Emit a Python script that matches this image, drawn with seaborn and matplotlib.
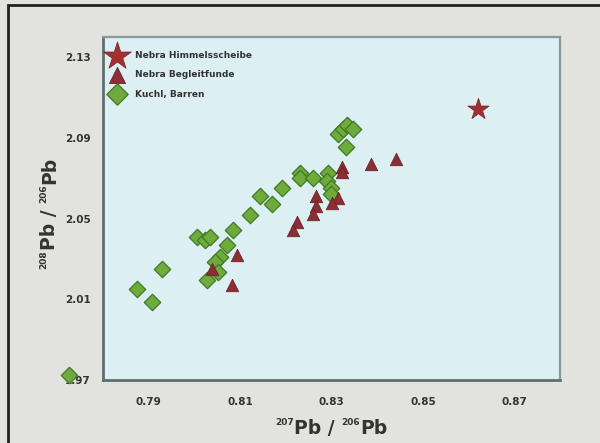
import matplotlib
matplotlib.use("Agg")
import matplotlib.pyplot as plt
import seaborn as sns
import pandas as pd
from matplotlib.patches import Rectangle
from matplotlib.transforms import IdentityTransform

# Data
star_x = [0.862]
star_y = [2.1045]

tri_x = [0.8324, 0.8324, 0.8386, 0.8441, 0.8265, 0.8265, 0.8260, 0.8315, 0.8302,
         0.8225, 0.8216, 0.8093, 0.8038, 0.8082]
tri_y = [2.0755, 2.0730, 2.0770, 2.0795, 2.0610, 2.0560, 2.0525, 2.0600, 2.0575,
         2.0485, 2.0445, 2.0320, 2.0250, 2.0170]

dia_x = [0.8005, 0.8023, 0.8034, 0.8071, 0.8056, 0.8045, 0.8052, 0.8027, 0.8085,
         0.8122, 0.8144, 0.8170, 0.8192, 0.8232, 0.8232, 0.8260, 0.8293, 0.8291,
         0.8298, 0.8298, 0.8315, 0.8326, 0.8335, 0.8346, 0.8331, 0.7929, 0.7874,
         0.7907, 0.7726]
dia_y = [2.0410, 2.0395, 2.0410, 2.0370, 2.0310, 2.0285, 2.0235, 2.0195, 2.0445,
         2.0520, 2.0610, 2.0570, 2.0650, 2.0725, 2.0700, 2.0700, 2.0725, 2.0685,
         2.0650, 2.0620, 2.0920, 2.0945, 2.0965, 2.0945, 2.0855, 2.0250, 2.0150,
         2.0085, 1.9725]

labels = ["Nebra Himmelsscheibe", "Nebra Begleitfunde", "Kuchl, Barren"]
x_ticks = [0.79, 0.81, 0.83, 0.85, 0.87]
y_ticks = [1.97, 2.01, 2.05, 2.09, 2.13]
x_label_parts = [("207", True), ("Pb / ", False), ("206", True), ("Pb", False)]
y_label_parts = [("208", True), ("Pb / ", False), ("206", True), ("Pb", False)]

sns.set_style("white")
plt.rcParams['font.family'] = ['DejaVu Sans']

fig = plt.figure(figsize=(6.0, 4.43), dpi=100)
fig.patch.set_facecolor("#e2e2de")
fig.patches.append(Rectangle((8/600, -0.01), 1.2, 1 - 5/443 + 0.01, transform=fig.transFigure,
                             fill=False, edgecolor="#202020", linewidth=2.0))

ax = fig.add_axes([103/600, 1 - 380/443, (560 - 103)/600, (380 - 37)/443])
ax.set_facecolor("#dcf0f4")

star_df = pd.DataFrame({"x": star_x, "y": star_y})
tri_df = pd.DataFrame({"x": tri_x, "y": tri_y})
dia_df = pd.DataFrame({"x": dia_x, "y": dia_y})

sns.scatterplot(data=dia_df, x="x", y="y", ax=ax, marker="D", s=70,
                color="#6eaa3c", edgecolor="#3f7a25", linewidth=0.9,
                label=labels[2], clip_on=False, zorder=3)
sns.scatterplot(data=tri_df, x="x", y="y", ax=ax, marker="^", s=80,
                color="#8a2f35", edgecolor="#6e2228", linewidth=0.6,
                label=labels[1], zorder=4)
sns.scatterplot(data=star_df, x="x", y="y", ax=ax, marker="*", s=260,
                color="#a33030", edgecolor="#7a2020", linewidth=0.5,
                label=labels[0], zorder=5)

ax.set_xlim(0.78, 0.88)
ax.set_ylim(1.97, 2.14)
ax.set_xticks(x_ticks)
ax.set_xticklabels([f"{v:.2f}" for v in x_ticks])
ax.set_yticks(y_ticks)
ax.set_yticklabels([f"{v:.2f}" for v in y_ticks])
ax.tick_params(axis="both", labelsize=7.5, colors="#333333", length=3, width=1,
               direction="out", pad=6)
for lab in ax.get_xticklabels() + ax.get_yticklabels():
    lab.set_fontweight("bold")
ax.tick_params(axis="x", pad=9)
ax.set_xlabel("")
ax.set_ylabel("")

for side in ["left", "bottom"]:
    ax.spines[side].set_color("#5f6f70")
    ax.spines[side].set_linewidth(2.0)
for side in ["top", "right"]:
    ax.spines[side].set_color("#8a9a9a")
    ax.spines[side].set_linewidth(1.6)

# Composed axis labels with small superscripts
renderer = fig.canvas.get_renderer()
BIG, SMALL, RAISE = 13.5, 6.5, 9


def compose(parts, center, base, vertical):
    texts = []
    pos = 0.0
    for s, sup in parts:
        size = SMALL if sup else BIG
        t = fig.text(0, 0, s, fontsize=size, fontweight="bold", color="#333333",
                     transform=IdentityTransform(), ha="left", va="baseline",
                     rotation=90 if vertical else 0, rotation_mode="anchor")
        bb = t.get_window_extent(renderer)
        w = bb.height if vertical else bb.width
        texts.append((t, pos, sup))
        pos += w + (0 if sup else 0)
    start = center - pos / 2
    for t, p, sup in texts:
        off = RAISE if sup else 0
        if vertical:
            t.set_position((base - off, start + p))
        else:
            t.set_position((start + p, base + off))


compose(x_label_parts, center=(103 + 560) / 2, base=443 - 434, vertical=False)
compose(y_label_parts, center=443 - 213, base=55, vertical=True)

handles, lbls = ax.get_legend_handles_labels()
order = [lbls.index(l) for l in labels]
leg = ax.legend([handles[i] for i in order], [lbls[i] for i in order],
                loc="upper left", frameon=False, fontsize=6.5, handletextpad=0.9,
                borderaxespad=0.2, labelspacing=1.15, markerscale=1.3,
                bbox_to_anchor=(0.0, 0.975))
for t in leg.get_texts():
    t.set_fontweight("bold")
    t.set_color("#333333")

fig.savefig("out.png", dpi=100, facecolor=fig.get_facecolor())
